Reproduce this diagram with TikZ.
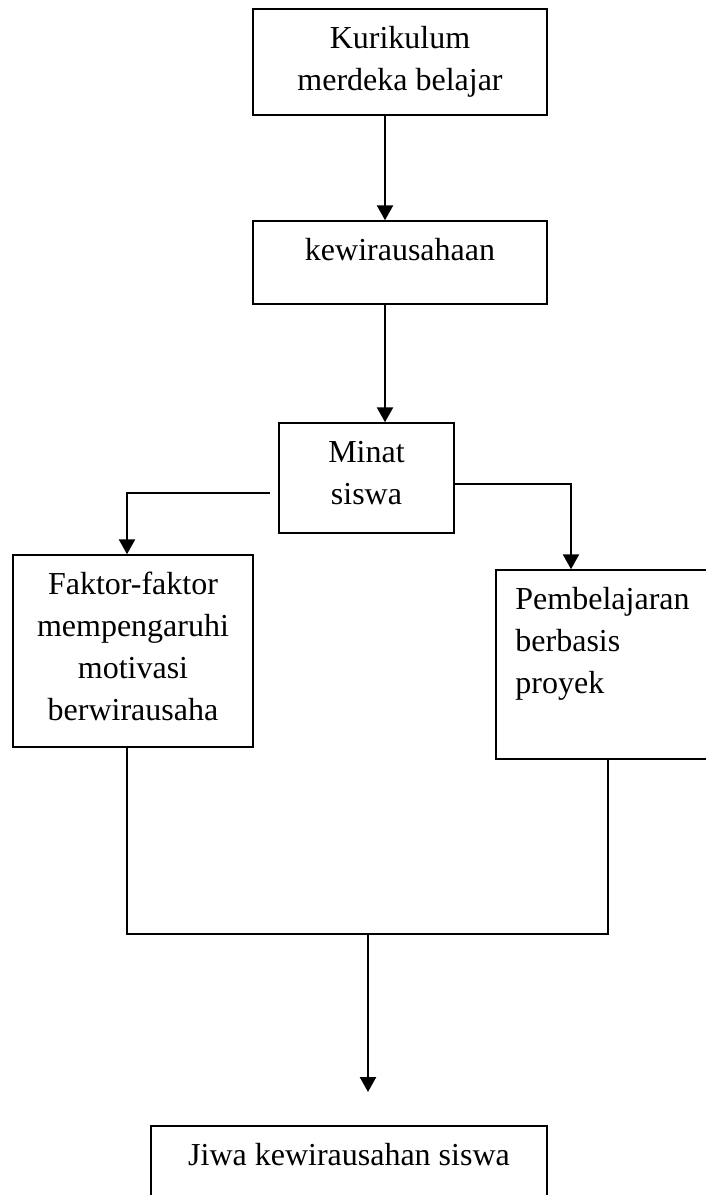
\documentclass[tikz,border=0pt]{standalone}
\usepackage{fontspec}
\setmainfont{Liberation Serif}
\usepackage{tikz}
\usetikzlibrary{calc}
\usetikzlibrary{arrows.meta}
\usetikzlibrary{positioning}

\begin{document}
\begin{tikzpicture}[x=1pt, y=-1pt,
        kotak/.style={draw=black, line width=1.5pt, inner sep=0pt},
        tulisan/.style={anchor=north, inner sep=0pt, align=center, font=\fontsize{32}{42}\selectfont},
        garis/.style={line width=1.6pt},
        panah/.style={line width=2.5pt, -{Triangle[width=16pt,length=15pt]}}]
    \useasboundingbox (0,0) rectangle (705,1195);
    % kotak-kotak
    \node[kotak, minimum width=294pt, minimum height=106pt] (kurikulum) at (400.0,  62.0) {};
    \node[kotak, minimum width=294pt, minimum height=83pt]  (kewira)    at (400.0, 262.5) {};
    \node[kotak, minimum width=175pt, minimum height=110pt] (minat)     at (366.5, 478.0) {};
    \node[kotak, minimum width=240pt, minimum height=192pt] (faktor)    at (133.0, 651.0) {};
    \node[kotak, minimum width=220pt, minimum height=189pt] (proyek)    at (606.0, 664.5) {};
    \node[kotak, minimum width=396pt, minimum height=110pt] (jiwa)      at (349.0,1181.0) {};
    % tulisan
    \node[tulisan] (kurikulumtxt) at ([yshift=-10.6pt]kurikulum.north) {\strut Kurikulum\\merdeka belajar};
    \node[tulisan] (kewiratxt)    at ([yshift=-10.6pt]kewira.north)    {\strut kewirausahaan};
    \node[tulisan] (minattxt)     at ([yshift=-10.6pt]minat.north)     {\strut Minat\\siswa};
    \node[tulisan] (faktortxt)    at ([yshift=-10.6pt]faktor.north)    {\strut Faktor-faktor\\mempengaruhi\\motivasi\\berwirausaha};
    \node[tulisan, anchor=north west, align=left] (proyektxt)
        at ([xshift=20pt,yshift=-10.6pt]proyek.north west) {\strut Pembelajaran\\berbasis\\proyek};
    \node[tulisan] (jiwatxt)      at ([yshift=-10.6pt]jiwa.north)      {\strut Jiwa kewirausahan siswa};
    % panah
    \coordinate (turun) at ([xshift=-15pt]kewira.south);
    \coordinate (kiri)  at ([xshift=-8pt,yshift=-15pt]minat.west);
    \coordinate (bawah) at (368,934);
    \coordinate (ujung) at (368,1092);
    \draw[panah] ([xshift=-15pt]kurikulum.south) -- ([xshift=-15pt]kewira.north);
    \draw[panah] (turun) -- (turun |- minat.north);
    \draw[panah] (kiri) -| ([xshift=-6pt]faktor.north);
    \draw[panah] ([yshift=-6pt]minat.east) -| ([xshift=-35pt]proyek.north);
    \draw[garis] ([xshift=-6pt]faktor.south) |- (bawah) -| ([xshift=2pt]proyek.south);
    \draw[panah] (bawah) -- (ujung);
\end{tikzpicture}
\end{document}
